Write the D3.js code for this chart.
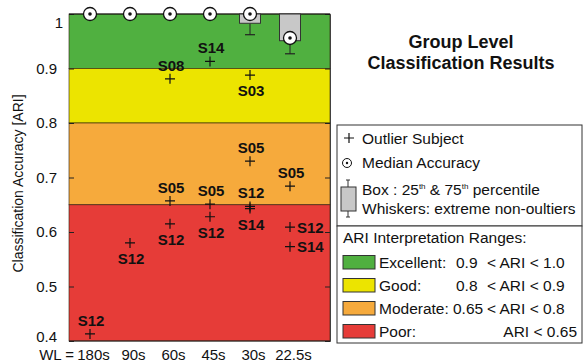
<!DOCTYPE html>
<html>
<head>
<meta charset="utf-8">
<script src="https://cdn.jsdelivr.net/npm/d3@7"></script>
<style>
  html, body { margin: 0; padding: 0; background: #fff; }
  svg { display: block; font-family: "Liberation Sans", Arial, Helvetica, sans-serif; }
</style>
</head>
<body>
<svg id="chart" width="583" height="362"></svg>
<script>
// ---------------- DATA ----------------
const categories = ["180s", "90s", "60s", "45s", "30s", "22.5s"];
const medians     = [1.0, 1.0, 1.0, 1.0, 1.0, 0.956];
const q1          = [1.0, 1.0, 1.0, 1.0, 0.983, 0.951];
const q3          = [1.0, 1.0, 1.0, 1.0, 1.0, 1.0];
const whiskerLow  = [1.0, 1.0, 1.0, 1.0, 0.962, 0.927];
const whiskerHigh = [1.0, 1.0, 1.0, 1.0, 1.0, 1.0];

// outliers: category index, value, subject label, label placement
const outlierCat   = [0, 1, 2, 2, 2, 3, 3, 3, 4, 4, 4, 4, 5, 5, 5];
const outlierValue = [0.413, 0.580, 0.881, 0.657, 0.615, 0.913, 0.651, 0.628, 0.888, 0.730, 0.647, 0.643, 0.684, 0.609, 0.573];
const outlierLabel = ["S12", "S12", "S08", "S05", "S12", "S14", "S05", "S12", "S03", "S05", "S12", "S14", "S05", "S12", "S14"];
const outlierPos   = ["above", "below", "above", "above", "below", "above", "above", "below", "below", "above", "above", "below", "above", "right", "right"];

const rangeNames  = ["Excellent", "Good", "Moderate", "Poor"];
const rangeLow    = [0.9, 0.8, 0.65, 0.4];
const rangeHigh   = [1.0, 0.9, 0.8, 0.65];
const rangeColors = ["#50b040", "#ece400", "#f6aa3c", "#e63c38"];

const yTicks = [0.4, 0.5, 0.6, 0.7, 0.8, 0.9, 1.0];

// ---------------- LAYOUT ----------------
const svg = d3.select("#chart");
const plot = { left: 69, right: 330, top: 14, bottom: 341 };

const x = d3.scaleLinear().domain([0.5, 7]).range([70, 330]);
const y = d3.scaleLinear().domain([0.4, 1.0]).range([plot.bottom, plot.top]);

const g = svg.append("g");

// colored ranges
g.selectAll("rect.band")
  .data(rangeNames.map((n, i) => ({ n, lo: rangeLow[i], hi: rangeHigh[i], c: rangeColors[i] })))
  .join("rect")
  .attr("class", "band")
  .attr("x", plot.left)
  .attr("width", plot.right - plot.left)
  .attr("y", d => y(d.hi))
  .attr("height", d => y(d.lo) - y(d.hi))
  .attr("fill", d => d.c)
  .attr("stroke", "rgba(40,30,10,0.75)")
  .attr("stroke-width", 0.8);

// axes
const yAxis = d3.axisLeft(y)
  .tickValues(yTicks)
  .tickSize(-5)
  .tickPadding(12)
  .tickFormat(d => d === 1 ? "1" : d3.format(".1f")(d));
const ya = g.append("g").attr("transform", `translate(${plot.left},0)`).call(yAxis);
ya.select(".domain").remove();
ya.selectAll("line").attr("stroke", "#222");
ya.selectAll("text").attr("font-size", 15).attr("fill", "#111")
  .attr("font-family", "'Liberation Sans', Arial, sans-serif");
ya.selectAll(".tick").filter(d => d === 1).select("text").attr("transform", "translate(6,9)");
ya.selectAll(".tick").filter(d => d === 0.4).select("text").attr("transform", "translate(0,-4)");

const yAxisR = d3.axisRight(y).tickValues(yTicks).tickSize(-5).tickFormat("");
const yr = g.append("g").attr("transform", `translate(${plot.right},0)`).call(yAxisR);
yr.select(".domain").attr("stroke", "#222").attr("stroke-width", 0.8);
yr.selectAll("line").attr("stroke", "#222");

const xAxis = d3.axisBottom(x)
  .tickValues(categories.map((c, i) => i + 1))
  .tickSize(0)
  .tickPadding(8)
  .tickFormat(d => categories[d - 1]);
const xa = g.append("g").attr("transform", `translate(0,${plot.bottom})`).call(xAxis);
xa.select(".domain").attr("stroke", "#222").attr("d", `M${plot.left},0H${plot.right}`);
xa.selectAll("text").attr("font-size", 15).attr("fill", "#111").attr("dx", 3)
  .attr("font-family", "'Liberation Sans', Arial, sans-serif");

g.append("text").attr("x", 74).attr("y", plot.bottom + 18.6)
  .attr("text-anchor", "end").attr("font-size", 15).attr("fill", "#111").text("WL =");

// top frame line
g.append("line").attr("x1", plot.left).attr("x2", plot.right)
  .attr("y1", plot.top).attr("y2", plot.top).attr("stroke", "#111").attr("stroke-width", 1.2);

// y label
g.append("text")
  .attr("transform", `translate(23,${(plot.top + plot.bottom) / 2 + 6}) rotate(-90)`)
  .attr("text-anchor", "middle").attr("font-size", 14).attr("fill", "#111")
  .text("Classification Accuracy [ARI]");

// ---------------- BOXES ----------------
const boxW = 21;
categories.forEach((c, i) => {
  const cx = x(i + 1);
  if (whiskerLow[i] < q1[i]) {
    g.append("line").attr("x1", cx).attr("x2", cx).attr("y1", y(q1[i])).attr("y2", y(whiskerLow[i]))
      .attr("stroke", "#222").attr("stroke-width", 1);
    g.append("line").attr("x1", cx - 5).attr("x2", cx + 5).attr("y1", y(whiskerLow[i])).attr("y2", y(whiskerLow[i]))
      .attr("stroke", "#222").attr("stroke-width", 1.2);
  }
  if (q3[i] > q1[i]) {
    g.append("rect").attr("x", cx - boxW / 2).attr("width", boxW)
      .attr("y", y(q3[i])).attr("height", y(q1[i]) - y(q3[i]))
      .attr("fill", "#c8c8c8").attr("stroke", "#333").attr("stroke-width", 1);
  }
});

// outliers
const outliers = outlierCat.map((c, i) => ({ c, v: outlierValue[i], l: outlierLabel[i], p: outlierPos[i] }));
const og = g.append("g");
outliers.forEach(o => {
  const cx = x(o.c + 1), cy = y(o.v);
  og.append("path").attr("d", `M${cx - 5},${cy}H${cx + 5}M${cx},${cy - 5}V${cy + 5}`)
    .attr("stroke", "#111").attr("stroke-width", 1.2).attr("fill", "none");
  const t = og.append("text").attr("font-size", 15).attr("font-weight", "bold").attr("fill", "#111").text(o.l);
  if (o.p === "above") t.attr("x", cx + 1).attr("y", cy - 8).attr("text-anchor", "middle");
  else if (o.p === "below") t.attr("x", cx + 1).attr("y", cy + 21).attr("text-anchor", "middle");
  else t.attr("x", cx + 7).attr("y", cy + 5.5).attr("text-anchor", "start");
});

// medians
categories.forEach((c, i) => {
  const cx = x(i + 1), cy = y(medians[i]);
  g.append("circle").attr("cx", cx).attr("cy", cy).attr("r", 6.5)
    .attr("fill", "#fff").attr("stroke", "#111").attr("stroke-width", 1.3);
  g.append("circle").attr("cx", cx).attr("cy", cy).attr("r", 1.8).attr("fill", "#111");
});

// ---------------- TITLE ----------------
svg.append("text").attr("x", 461).attr("y", 48).attr("text-anchor", "middle")
  .attr("font-size", 18).attr("font-weight", "bold").attr("fill", "#111").text("Group Level");
svg.append("text").attr("x", 461).attr("y", 69).attr("text-anchor", "middle")
  .attr("font-size", 18).attr("font-weight", "bold").attr("fill", "#111").text("Classification Results");

// ---------------- LEGEND 1 ----------------
const FS = 15.5;
const L = svg.append("g");
L.append("rect").attr("x", 337).attr("y", 125).attr("width", 245).attr("height", 101)
  .attr("fill", "#fff").attr("stroke", "#333").attr("stroke-width", 1);
const lt = (txt, yc) => L.append("text").attr("x", 362).attr("y", yc + 5.5).attr("font-size", FS).attr("fill", "#111").text(txt);
L.append("path").attr("d", "M344,138H354M349,133V143").attr("stroke", "#111").attr("stroke-width", 1.2);
lt("Outlier Subject", 138);
L.append("circle").attr("cx", 347).attr("cy", 163).attr("r", 4.5).attr("fill", "#fff").attr("stroke", "#111").attr("stroke-width", 1);
L.append("circle").attr("cx", 347).attr("cy", 163).attr("r", 1.2).attr("fill", "#111");
lt("Median Accuracy", 162);
L.append("path").attr("d", "M346,180H350M348,180V187M348,211V217M346,217H350").attr("stroke", "#333").attr("stroke-width", 1);
L.append("rect").attr("x", 341).attr("y", 187).attr("width", 15).attr("height", 24)
  .attr("fill", "#c8c8c8").attr("stroke", "#333").attr("stroke-width", 1);
const bt = L.append("text").attr("x", 362).attr("y", 189 + 5.5).attr("font-size", FS).attr("fill", "#111");
bt.append("tspan").text("Box : 25");
bt.append("tspan").attr("font-size", 8).attr("dy", -6).text("th");
bt.append("tspan").attr("dy", 6).text(" & 75");
bt.append("tspan").attr("font-size", 8).attr("dy", -6).text("th");
bt.append("tspan").attr("dy", 6).text(" percentile");
lt("Whiskers: extreme non-oultiers", 208);

// ---------------- LEGEND 2 ----------------
L.append("rect").attr("x", 337).attr("y", 226).attr("width", 245).attr("height", 117)
  .attr("fill", "#fff").attr("stroke", "#333").attr("stroke-width", 1);
L.append("text").attr("x", 343).attr("y", 237 + 5.5).attr("font-size", FS).attr("fill", "#111").text("ARI Interpretation Ranges:");
rangeNames.forEach((n, i) => {
  const yc = 262 + i * 23;
  L.append("rect").attr("x", 343).attr("y", yc - 6.5).attr("width", 32).attr("height", 13.5)
    .attr("fill", rangeColors[i]).attr("stroke", "#333").attr("stroke-width", 1);
  L.append("text").attr("x", 379).attr("y", yc + 5.5).attr("font-size", FS).attr("fill", "#111").text(n + ":");
  if (i < rangeNames.length - 1) {
    L.append("text").attr("x", i === 2 ? 453 : 456).attr("y", yc + 5.5).attr("font-size", FS).attr("fill", "#111")
      .text(String(rangeLow[i]));
    L.append("text").attr("x", 487).attr("y", yc + 5.5).attr("font-size", FS).attr("fill", "#111")
      .text("< ARI < " + d3.format(".1f")(rangeHigh[i]));
  } else {
    L.append("text").attr("x", 577).attr("y", yc + 5.5).attr("text-anchor", "end").attr("font-size", FS).attr("fill", "#111")
      .text("ARI < " + rangeHigh[i]);
  }
});
</script>
</body>
</html>
